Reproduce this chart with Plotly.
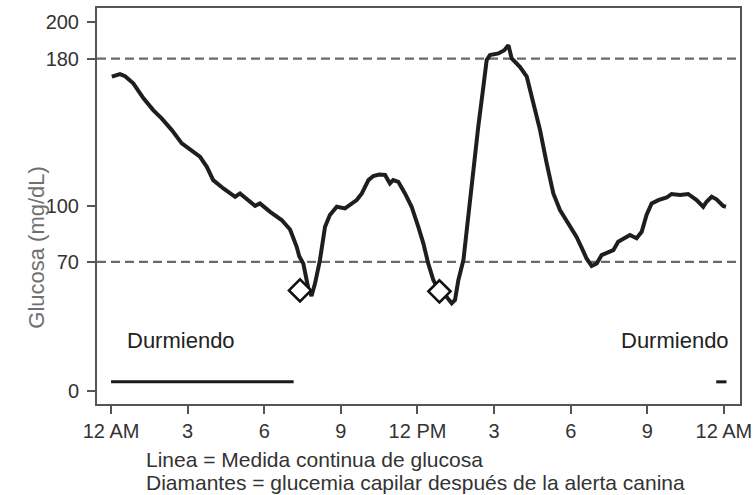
import plotly.graph_objects as go

# Continuous glucose monitor trace (hour of day, mg/dL)
hours = [0.03, 0.35, 0.55, 0.87, 1.27, 1.66, 1.98, 2.38, 2.77, 3.09, 3.48, 3.75, 4.0, 4.4, 4.86,
         5.05, 5.38, 5.64, 5.83, 6.23, 6.68, 7.01, 7.27, 7.37, 7.53, 7.6, 7.72, 7.85, 7.99, 8.18,
         8.38, 8.57, 8.84, 9.16, 9.36, 9.62, 9.82, 10.08, 10.27, 10.5, 10.73, 10.92, 11.05, 11.25,
         11.51, 11.77, 12.03, 12.23, 12.42, 12.62, 12.8, 12.95, 13.14, 13.34, 13.47, 13.6, 13.8,
         13.99, 14.19, 14.38, 14.58, 14.71, 14.84, 15.17, 15.4, 15.56, 15.69, 16.01, 16.28, 16.53,
         16.8, 17.06, 17.32, 17.58, 17.91, 18.23, 18.45, 18.62, 18.82, 19.02, 19.21, 19.47, 19.67,
         19.86, 20.13, 20.32, 20.58, 20.78, 20.97, 21.17, 21.43, 21.76, 21.95, 22.28, 22.6, 22.93,
         23.19, 23.32, 23.52, 23.71, 23.97, 24.08]
glucose = [170.2, 171.6, 170.5, 166.6, 158.5, 152.0, 147.6, 141.3, 134.1, 130.9, 126.9, 121.4,
           114.2, 109.7, 105.2, 107.0, 103.4, 100.3, 101.6, 97.0, 92.6, 87.5, 78.1, 73.0, 69.0,
           63.0, 56.0, 51.5, 58.3, 70.9, 89.0, 95.3, 99.8, 98.9, 100.7, 103.4, 107.0, 114.2, 116.4,
           117.2, 117.0, 112.4, 114.2, 113.3, 107.0, 99.8, 89.0, 80.0, 69.1, 60.1, 55.5, 53.0, 51.0,
           47.5, 49.3, 60.0, 71.0, 94.4, 123.3, 143.1, 164.8, 179.2, 181.9, 182.8, 184.5, 187.3,
           180.1, 175.6, 170.2, 155.8, 141.3, 123.3, 107.0, 98.0, 90.8, 83.5, 77.0, 71.8, 67.7,
           69.1, 73.6, 75.4, 76.3, 80.8, 82.7, 84.5, 82.7, 86.2, 95.3, 101.6, 103.4, 104.8, 106.7,
           106.1, 106.7, 103.4, 99.8, 102.5, 105.2, 103.8, 100.2, 99.8]

# Capillary glucose after canine alert
alert_hours = [7.4, 12.86]
alert_glucose = [54.5, 54.0]

# Sleep periods (start, end hour)
sleep_periods = [(0.0, 7.15), (23.7, 24.1)]
sleep_level = 5
sleep_label_pos = [(2.74, 27.6), (22.1, 27.6)]
sleep_label = "Durmiendo"

threshold_values = [70, 180]

x_tickvals = [0, 3, 6, 9, 12, 15, 18, 21, 24]
x_ticktext = ["12 AM", "3", "6", "9", "12 PM", "3", "6", "9", "12 AM"]
y_tickvals = [0, 70, 100, 180, 200]

y_title = "Glucosa (mg/dL)"
notes = ["Linea = Medida continua de glucosa",
         "Diamantes = glucemia capilar después de la alerta canina"]

FONT = "Liberation Sans, Arial, sans-serif"

fig = go.Figure()

for thr in threshold_values:
    fig.add_shape(type="line", xref="paper", x0=0, x1=1, yref="y", y0=thr, y1=thr,
                  line=dict(color="#6a6a6a", width=2.2, dash="9px,5px"), layer="below")

for (s, e) in sleep_periods:
    fig.add_trace(go.Scatter(x=[s, e], y=[sleep_level, sleep_level], mode="lines",
                             line=dict(color="#1a1a1a", width=3), showlegend=False,
                             hoverinfo="skip"))

fig.add_trace(go.Scatter(x=hours, y=glucose, mode="lines",
                         line=dict(color="#1e1e1e", width=4, shape="linear"),
                         showlegend=False))

fig.add_trace(go.Scatter(x=alert_hours, y=alert_glucose, mode="markers",
                         marker=dict(symbol="diamond", size=17, color="white",
                                     line=dict(color="#111", width=2.6)),
                         showlegend=False))

for (hx, hy) in sleep_label_pos:
    fig.add_annotation(x=hx, y=hy, xref="x", yref="y", text=sleep_label, showarrow=False,
                       font=dict(family=FONT, size=22, color="#222"))

fig.add_annotation(x=-0.1166, y=0.396, xref="paper", yref="paper", text=y_title,
                   textangle=-90, showarrow=False,
                   font=dict(family=FONT, size=22, color="#707070"))

for i, t in enumerate(notes):
    fig.add_annotation(x=0.073, y=-0.141 - 0.058 * i, xref="paper", yref="paper", text=t,
                       xanchor="left", yanchor="middle", showarrow=False,
                       font=dict(family=FONT, size=21, color="#333"))

fig.update_xaxes(range=[-0.55, 24.63], tickvals=x_tickvals, ticktext=x_ticktext,
                 showline=True, mirror=True, linecolor="#555", linewidth=2,
                 ticks="outside", ticklen=8, tickwidth=2, tickcolor="#555",
                 showgrid=False, zeroline=False,
                 tickfont=dict(family=FONT, size=20, color="#333"))
fig.update_yaxes(range=[-7, 207.4], tickvals=y_tickvals,
                 showline=True, mirror=True, linecolor="#555", linewidth=2,
                 ticks="outside", ticklen=8, tickwidth=2, tickcolor="#555",
                 ticklabelstandoff=4,
                 showgrid=False, zeroline=False,
                 tickfont=dict(family=FONT, size=20, color="#333"))

fig.update_layout(width=756, height=495, margin=dict(l=97, r=16, t=8, b=91, autoexpand=False),
                  plot_bgcolor="white", paper_bgcolor="white", showlegend=False)

fig.write_html("out.html", config={"displayModeBar": False},
               post_script="document.body.style.margin='0';")
